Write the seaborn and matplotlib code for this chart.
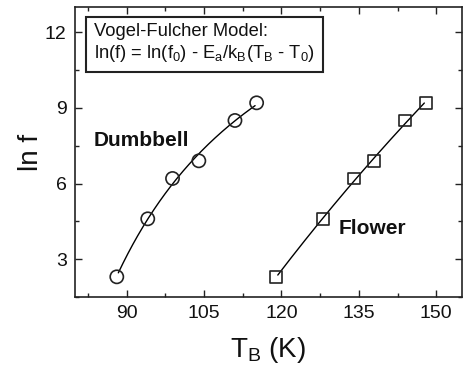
import numpy as np
import pandas as pd
import seaborn as sns
import matplotlib
matplotlib.use("Agg")
import matplotlib.pyplot as plt
from matplotlib.ticker import MultipleLocator

# ---- data ----
dumbbell_T = [88.1, 94.1, 98.9, 104.0, 111.0, 115.2]
dumbbell_lnf = [2.3, 4.6, 6.2, 6.9, 8.5, 9.2]
flower_T = [119.0, 128.1, 134.1, 138.0, 144.0, 148.0]
flower_lnf = [2.3, 4.6, 6.2, 6.9, 8.5, 9.2]
x_ticks = [90, 105, 120, 135, 150]
y_ticks = [3, 6, 9, 12]


def vf_fit(T, y):
    """Least-squares Vogel-Fulcher fit: ln f = A - B/(T - T0)."""
    T = np.asarray(T, float)
    y = np.asarray(y, float)
    best = None
    for T0 in np.linspace(T.min() - 400, T.min() - 0.5, 4000):
        X = np.column_stack([np.ones_like(T), -1.0 / (T - T0)])
        coef, *_ = np.linalg.lstsq(X, y, rcond=None)
        r = np.sum((X @ coef - y) ** 2)
        if best is None or r < best[0]:
            best = (r, T0, coef)
    _, T0, (A, B) = best
    Tf = np.linspace(T.min() + 0.3, T.max() - 0.3, 200)
    return Tf, A - B / (Tf - T0)


sns.set_theme(style="ticks")
plt.rcParams['font.family'] = ['Liberation Sans', 'DejaVu Sans']
plt.rcParams['mathtext.fontset'] = 'custom'
plt.rcParams['mathtext.rm'] = 'Liberation Sans'
plt.rcParams['mathtext.it'] = 'Liberation Sans'
plt.rcParams['text.color'] = '#111111'
plt.rcParams['axes.labelcolor'] = '#111111'

fig = plt.figure(figsize=(4.63, 3.72), dpi=100)
ax = fig.add_axes([75 / 463, 1 - 297 / 372, (462 - 75) / 463, (297 - 7) / 372])

d_df = pd.DataFrame({"T": dumbbell_T, "lnf": dumbbell_lnf})
f_df = pd.DataFrame({"T": flower_T, "lnf": flower_lnf})

for df, mk, ms in [(d_df, "o", 9.5), (f_df, "s", 8.5)]:
    Tf, yf = vf_fit(df["T"], df["lnf"])
    sns.lineplot(x=Tf, y=yf, ax=ax, color="black", lw=1.0, sort=False)
    sns.scatterplot(data=df, x="T", y="lnf", ax=ax, marker=mk, s=ms ** 2,
                    facecolor="none", edgecolor="#222222", linewidth=1.2, zorder=3)

ax.set_xlim(80, 155)
ax.set_ylim(1.5, 13)
ax.set_xticks(x_ticks)
ax.set_yticks(y_ticks)
ax.xaxis.set_minor_locator(MultipleLocator(7.5))
ax.yaxis.set_minor_locator(MultipleLocator(1.5))
ax.tick_params(which="both", direction="in", top=True, right=True,
               labelsize=14, colors="#222222", labelcolor="#111111", width=1.0)
ax.tick_params(which="major", length=5, pad=6)
ax.tick_params(which="minor", length=3)
for s in ax.spines.values():
    s.set_linewidth(1.2)
    s.set_color("#222222")

ax.set_xlabel("T$_\\mathregular{B}$ (K)", fontsize=20, labelpad=9)
ax.set_ylabel("ln f", fontsize=20, labelpad=1)

ax.text(83.7, 7.69, "Dumbbell", fontsize=15, fontweight="bold", va="center", ha="left")
ax.text(131.1, 4.21, "Flower", fontsize=15, fontweight="bold", va="center", ha="left")

box_text = ("Vogel-Fulcher Model:\n"
            "ln(f) = ln(f$_\\mathregular{0}$) - E$_\\mathregular{a}$/k$_\\mathregular{B}$"
            "(T$_\\mathregular{B}$ - T$_\\mathregular{0}$)")
ax.text(0.049, 0.945, box_text, transform=ax.transAxes, fontsize=13.2,
        va="top", ha="left", linespacing=1.2,
        bbox=dict(boxstyle="square,pad=0.45", facecolor="white",
                  edgecolor="#222222", linewidth=1.5))

fig.savefig("out.png", dpi=100)
